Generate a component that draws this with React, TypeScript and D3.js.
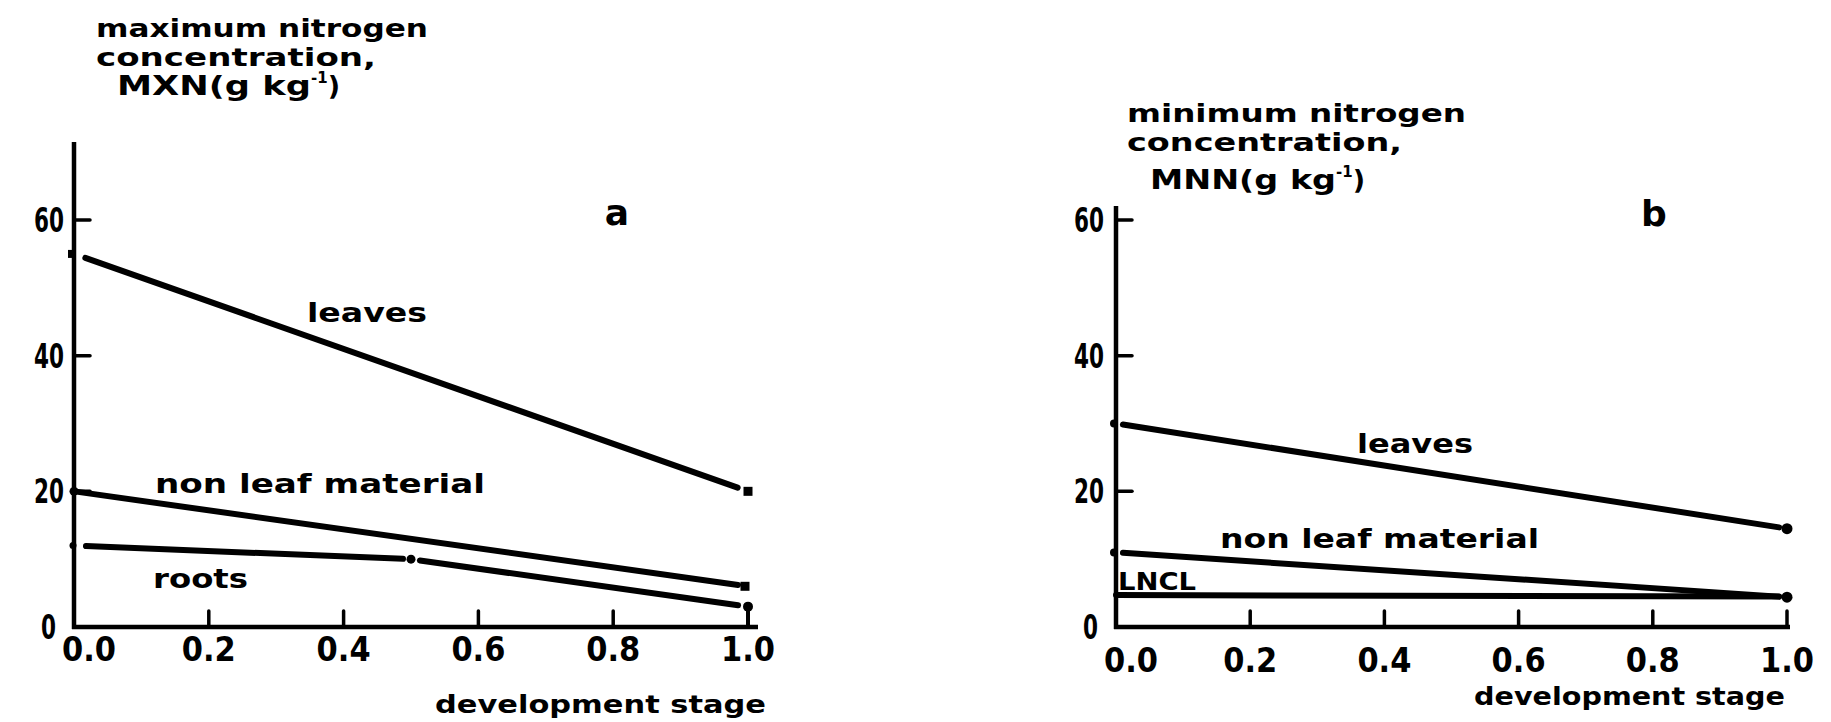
import React from "react";
import * as d3 from "d3";

// ---------- data ----------
const xTickValues = [0, 0.2, 0.4, 0.6, 0.8, 1.0];
const xTickLabels = ["0.0", "0.2", "0.4", "0.6", "0.8", "1.0"];
const yTickValues = [0, 20, 40, 60];
const yTickLabels = ["0", "20", "40", "60"];

// panel a: maximum nitrogen concentration (g/kg) vs development stage
const mxnLeavesStage = [0, 1];
const mxnLeaves = [55, 20];
const mxnNonLeafStage = [0, 1];
const mxnNonLeaf = [20, 6];
const mxnRootsStage = [0, 0.5, 1];
const mxnRoots = [12, 10, 3];

// panel b: minimum nitrogen concentration (g/kg) vs development stage
const mnnLeavesStage = [0, 1];
const mnnLeaves = [30, 14.5];
const mnnNonLeafStage = [0, 1];
const mnnNonLeaf = [11, 4.4];
const lnclStage = [0, 1];
const lncl = [4.7, 4.5];

// ---------- styling ----------
const W = 1831;
const H = 722;
const FONT = "'DejaVu Sans', sans-serif";
const INK = "#000";

type MarkerType = "square" | "dot" | "none";
interface SeriesStyle {
  xs: number[];
  ys: number[];
  gaps: [number, number][];
  markers: { type: MarkerType; size: number; dx?: number; stem?: boolean }[];
}
interface LabelDef {
  text: string;
  x: number;
  y: number;
  len: number;
  size: number;
}
interface PanelDef {
  x0: number;
  x1: number;
  axisTop: number;
  axisRightEnd: number;
  series: SeriesStyle[];
  labels: LabelDef[];
  title: { lines: LabelDef[]; unit: string; unitX: number; unitY: number; unitLen: number };
  letter: { text: string; x: number; y: number };
  xTitle: LabelDef;
  xLabelBaseline: number;
  yLabelGap: number;
  zeroLabelGap: number;
}

const Y0 = 627;
const Y60 = 220;
const yScale = d3.scaleLinear().domain([0, 60]).range([Y0, Y60]);

function shorten(x1: number, y1: number, x2: number, y2: number, g1: number, g2: number) {
  const dx = x2 - x1;
  const dy = y2 - y1;
  const L = Math.hypot(dx, dy) || 1;
  const ux = dx / L;
  const uy = dy / L;
  return [x1 + ux * g1, y1 + uy * g1, x2 - ux * g2, y2 - uy * g2];
}

const panels: PanelDef[] = [
  {
    x0: 74,
    x1: 748,
    axisTop: 142,
    axisRightEnd: 758,
    series: [
      {
        xs: mxnLeavesStage,
        ys: mxnLeaves,
        gaps: [[12, 11]],
        markers: [
          { type: "square", size: 8, dx: -2 },
          { type: "square", size: 9 },
        ],
      },
      {
        xs: mxnNonLeafStage,
        ys: mxnNonLeaf,
        gaps: [[4, 10]],
        markers: [
          { type: "dot", size: 4.5 },
          { type: "square", size: 9, dx: -3 },
        ],
      },
      {
        xs: mxnRootsStage,
        ys: mxnRoots,
        gaps: [
          [12, 8],
          [9, 10],
        ],
        markers: [
          { type: "dot", size: 3.5, dx: -1 },
          { type: "dot", size: 4.5 },
          { type: "dot", size: 5, stem: true },
        ],
      },
    ],
    labels: [
      { text: "leaves", x: 307, y: 322, len: 120, size: 26 },
      { text: "non leaf material", x: 155, y: 493, len: 330, size: 26 },
      { text: "roots", x: 153, y: 588, len: 95, size: 26 },
    ],
    title: {
      lines: [
        { text: "maximum nitrogen", x: 96, y: 37, len: 332, size: 25 },
        { text: "concentration,", x: 96, y: 66, len: 280, size: 25 },
      ],
      unit: "MXN(g kg",
      unitX: 117,
      unitY: 95,
      unitLen: 194,
    },
    letter: { text: "a", x: 617, y: 225 },
    xTitle: { text: "development stage", x: 435, y: 713, len: 331, size: 25 },
    xLabelBaseline: 661,
    yLabelGap: 10,
    zeroLabelGap: 18,
  },
  {
    x0: 1116,
    x1: 1787,
    axisTop: 206,
    axisRightEnd: 1790,
    series: [
      {
        xs: mnnLeavesStage,
        ys: mnnLeaves,
        gaps: [[7, 8]],
        markers: [
          { type: "dot", size: 4, dx: -2 },
          { type: "dot", size: 5.5 },
        ],
      },
      {
        xs: mnnNonLeafStage,
        ys: mnnNonLeaf,
        gaps: [[7, 8]],
        markers: [
          { type: "dot", size: 4, dx: -2 },
          { type: "dot", size: 5.5 },
        ],
      },
      {
        xs: lnclStage,
        ys: lncl,
        gaps: [[0, 8]],
        markers: [
          { type: "none", size: 0 },
          { type: "none", size: 0 },
        ],
      },
    ],
    labels: [
      { text: "leaves", x: 1357, y: 453, len: 116, size: 26 },
      { text: "non leaf material", x: 1220, y: 548, len: 319, size: 26 },
      { text: "LNCL", x: 1118, y: 590, len: 78, size: 25 },
    ],
    title: {
      lines: [
        { text: "minimum nitrogen", x: 1127, y: 122, len: 339, size: 25 },
        { text: "concentration,", x: 1127, y: 151, len: 275, size: 25 },
      ],
      unit: "MNN(g kg",
      unitX: 1150,
      unitY: 189,
      unitLen: 186,
    },
    letter: { text: "b", x: 1654, y: 226 },
    xTitle: { text: "development stage", x: 1474, y: 705, len: 311, size: 25 },
    xLabelBaseline: 672,
    yLabelGap: 12,
    zeroLabelGap: 18,
  },
];

function Panel({ p }: { p: PanelDef }) {
  const x = d3.scaleLinear().domain([0, 1]).range([p.x0, p.x1]);
  const y = yScale;
  const line = d3.line<[number, number]>();
  return (
    <g>
      {/* axes */}
      <line x1={p.x0} y1={p.axisTop} x2={p.x0} y2={Y0 + 2} stroke={INK} strokeWidth={4.5} />
      <line x1={p.x0 - 2} y1={Y0} x2={p.axisRightEnd} y2={Y0} stroke={INK} strokeWidth={4.5} />
      {/* y ticks */}
      {yTickValues.map((v, i) => (
        <g key={"y" + i}>
          {v > 0 && (
            <line x1={p.x0} y1={y(v)} x2={p.x0 + 16} y2={y(v)} stroke={INK} strokeWidth={3.5} strokeLinecap="round" />
          )}
          <text
            x={p.x0 - (v === 0 ? p.zeroLabelGap : p.yLabelGap)}
            y={y(v) + 12}
            textAnchor="end"
            fontFamily={FONT}
            fontSize={34}
            textLength={yTickLabels[i].length * 15}
            lengthAdjust="spacingAndGlyphs"
          >
            {yTickLabels[i]}
          </text>
        </g>
      ))}
      {/* x ticks */}
      {xTickValues.map((v, i) => (
        <g key={"x" + i}>
          {v > 0 && (
            <line x1={x(v)} y1={Y0} x2={x(v)} y2={Y0 - 16} stroke={INK} strokeWidth={3.5} strokeLinecap="round" />
          )}
          <text
            x={i === 0 ? x(v) + 15 : x(v)}
            y={p.xLabelBaseline}
            textAnchor="middle"
            fontFamily={FONT}
            fontSize={34}
            textLength={54}
            lengthAdjust="spacingAndGlyphs"
          >
            {xTickLabels[i]}
          </text>
        </g>
      ))}
      {/* series */}
      {p.series.map((s, si) => {
        const pts: [number, number][] = s.xs.map((xv, k) => [x(xv), y(s.ys[k])]);
        return (
          <g key={"s" + si}>
            {pts.slice(0, -1).map((pt, k) => {
              const [g1, g2] = s.gaps[k];
              const [a, b, c, d] = shorten(pt[0], pt[1], pts[k + 1][0], pts[k + 1][1], g1, g2);
              return (
                <path
                  key={k}
                  d={line([
                    [a, b],
                    [c, d],
                  ]) || ""}
                  stroke={INK}
                  strokeWidth={6}
                  strokeLinecap="round"
                  fill="none"
                />
              );
            })}
            {pts.map((pt, k) => {
              const m = s.markers[k];
              const cx = pt[0] + (m.dx || 0);
              const cy = pt[1];
              return (
                <g key={"m" + k}>
                  {m.type === "square" && (
                    <rect x={cx - m.size / 2} y={cy - m.size / 2} width={m.size} height={m.size} fill={INK} />
                  )}
                  {m.type === "dot" && <circle cx={cx} cy={cy} r={m.size} fill={INK} />}
                  {m.stem && <line x1={cx} y1={cy} x2={cx} y2={Y0} stroke={INK} strokeWidth={4} />}
                </g>
              );
            })}
          </g>
        );
      })}
      {/* series labels */}
      {p.labels.map((l, i) => (
        <text
          key={"l" + i}
          x={l.x}
          y={l.y}
          fontFamily={FONT}
          fontSize={l.size}
          textLength={l.len}
          lengthAdjust="spacingAndGlyphs"
        >
          {l.text}
        </text>
      ))}
      {/* title */}
      {p.title.lines.map((l, i) => (
        <text
          key={"t" + i}
          x={l.x}
          y={l.y}
          fontFamily={FONT}
          fontSize={l.size}
          textLength={l.len}
          lengthAdjust="spacingAndGlyphs"
        >
          {l.text}
        </text>
      ))}
      <text x={p.title.unitX} y={p.title.unitY} fontFamily={FONT} fontSize={27}>
        <tspan textLength={p.title.unitLen} lengthAdjust="spacingAndGlyphs">
          {p.title.unit}
        </tspan>
        <tspan dy={-12} fontSize={15}>
          -1
        </tspan>
        <tspan dy={12}>)</tspan>
      </text>
      {/* panel letter */}
      <text x={p.letter.x} y={p.letter.y} textAnchor="middle" fontFamily={FONT} fontSize={36}>
        {p.letter.text}
      </text>
      {/* x axis title */}
      <text
        x={p.xTitle.x}
        y={p.xTitle.y}
        fontFamily={FONT}
        fontSize={p.xTitle.size}
        textLength={p.xTitle.len}
        lengthAdjust="spacingAndGlyphs"
      >
        {p.xTitle.text}
      </text>
    </g>
  );
}

export default function App() {
  return (
    <svg
      width={W}
      height={H}
      viewBox={`0 0 ${W} ${H}`}
      style={{ position: "absolute", left: 0, top: 0, background: "#fff" }}
      fontWeight="bold"
    >
      <rect width={W} height={H} fill="#fff" />
      {panels.map((p, i) => (
        <Panel key={i} p={p} />
      ))}
    </svg>
  );
}
